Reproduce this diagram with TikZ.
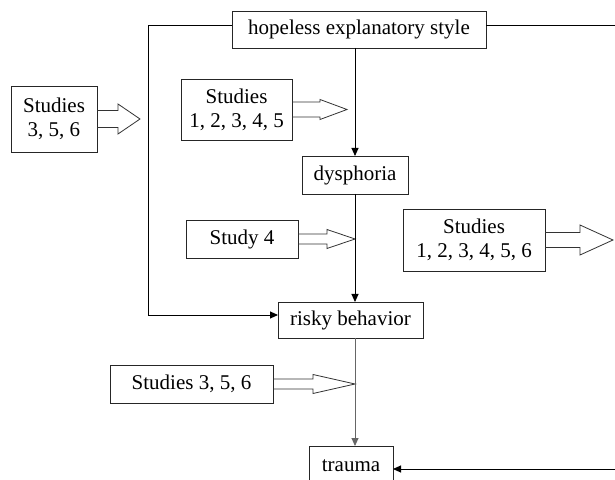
\documentclass[tikz,border=0pt]{standalone}
\usepackage{fontspec}
\setmainfont{Liberation Serif}
\usetikzlibrary{arrows.meta}
\tikzset{
  box/.style={draw=black!85, line width=0.9pt, inner sep=0pt, outer sep=0pt, align=center,
    font=\fontsize{21}{24}\selectfont},
  conn/.style={draw=black, line width=0.9pt},
  tip/.style={-{Triangle[length=8pt,width=7pt]}},
  hollow/.style={draw=black!80, line width=0.8pt, line join=miter},
}
% #1 node, #2 shaft half height, #3 head half height, #4 shaft length, #5 head length
\newcommand{\hollowarrow}[5]{%
  \draw[hollow] (#1.east) ++(0,#2) -- ++(#4,0) -- ++(0,#3-#2) -- ++(#5,-#3)
    -- ++(-#5,-#3) -- ++(0,#3-#2) -- ++(-#4,0);}
\begin{document}
\begin{tikzpicture}[x=1pt,y=1pt]
\useasboundingbox (0,0) rectangle (615,479);
\clip (0,0) rectangle (615,479);
% main chain
\node[box, minimum width=254, minimum height=37] (hope) at (359,449.5) {hopeless explanatory style};
\node[box, minimum width=106, minimum height=38] (dys) at (355,304) {dysphoria};
\node[box, minimum width=145, minimum height=36] (risky) at (350.5,159) {risky behavior};
\node[box, minimum width=84, minimum height=40] (trauma) at (351,13) {trauma};
% study boxes
\node[box, minimum width=86, minimum height=66] (sA) at (54,360) {Studies\\3, 5, 6};
\node[box, minimum width=111, minimum height=61] (sB) at (236.5,369.5) {Studies\\1, 2, 3, 4, 5};
\node[box, minimum width=112, minimum height=38] (sC) at (242,240) {Study 4};
\node[box, minimum width=142, minimum height=62] (sD) at (474,239) {Studies\\1, 2, 3, 4, 5, 6};
\node[box, minimum width=163, minimum height=38] (sE) at (191.5,95) {Studies 3, 5, 6};
% hollow arrows
\hollowarrow{sA}{8.5}{15}{21}{22}
\hollowarrow{sB}{7.5}{10}{28}{27}
\hollowarrow{sC}{5}{9.5}{29}{28}
\hollowarrow{sD}{7.5}{15}{35}{33}
\hollowarrow{sE}{5}{9.5}{40}{42}
% connectors
\coordinate (R1) at (615,454);
\coordinate (R2) at (615,10);
\draw[conn,tip] ([yshift=4.5pt]hope.west) -- ++(-84,0) |- ([yshift=5pt]risky.west);
\draw[conn] ([yshift=4.5pt]hope.east) -- (R1);
\draw[conn,tip] (hope.south -| dys.north) -- (dys.north);
\draw[conn,tip] (dys.south) -- (dys.south |- risky.north);
\draw[conn,tip,draw=black!60] (dys.south |- risky.south) -- (dys.south |- trauma.north);
\draw[conn,tip] (R2) -- (R2 -| trauma.east);
\end{tikzpicture}
\end{document}
